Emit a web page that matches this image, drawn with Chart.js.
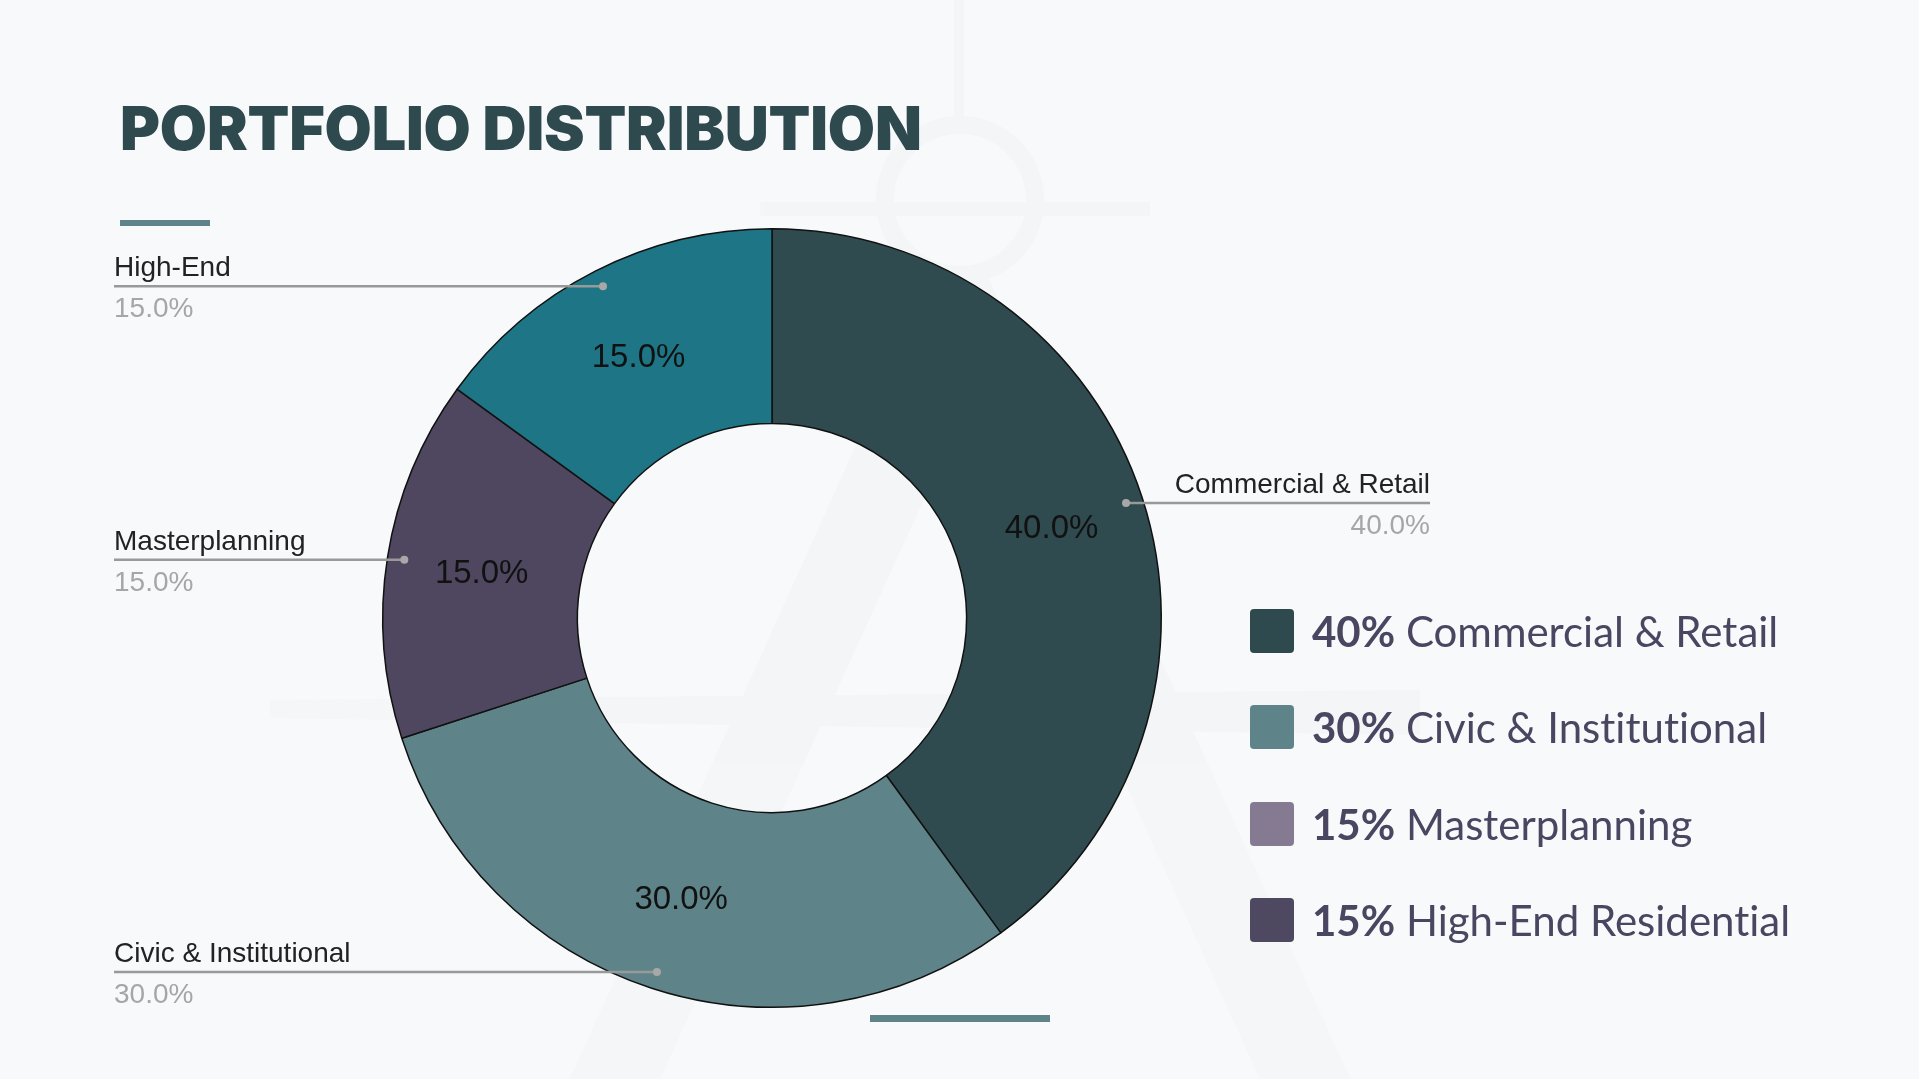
<!DOCTYPE html>
<html>
<head>
<meta charset="utf-8">
<script src="https://cdn.jsdelivr.net/npm/chart.js@4.4.1/dist/chart.umd.min.js"></script>
<style>
  html, body { margin: 0; padding: 0; }
  body { width: 1919px; height: 1079px; background: #f8f9fb; position: relative; overflow: hidden; font-family: "Liberation Sans", Arial, sans-serif; }
  #wm { position: absolute; left: 0; top: 0; width: 1919px; height: 1079px; }
  #title { position: absolute; left: 120px; top: 92px; margin: 0; font-family: Inter, sans-serif; font-weight: 900; font-size: 61px; color: #2f4a4e; letter-spacing: -0.2px; white-space: nowrap; line-height: 1.2; }
  #bar1 { position: absolute; left: 120px; top: 220px; width: 90px; height: 6px; background: #5e8489; }
  #bar2 { position: absolute; left: 870px; top: 1015px; width: 180px; height: 7px; background: #5e8489; }
  #chartWrap { position: absolute; left: 0; top: 0; width: 1919px; height: 1079px; }
  #legend { position: absolute; left: 1250px; top: 609px; font-family: Lato, sans-serif; color: #4a4560; font-variant-ligatures: none; font-feature-settings: "liga" 0; }
  .row { display: flex; align-items: center; height: 44px; margin-bottom: 52.3px; white-space: nowrap; }
  .sw { width: 44px; height: 44px; border-radius: 4px; margin-right: 18px; flex: none; }
  .txt { font-size: 42px; line-height: 44px; }
  .txt b { font-weight: 700; }
</style>
</head>
<body>
<svg id="wm" viewBox="0 0 1919 1079">
  <g fill="#eff1f3" opacity="0.45">
    <rect x="954" y="0" width="10" height="130"/>
    <circle cx="960" cy="200" r="75" fill="none" stroke="#eff1f3" stroke-width="18"/>
    <polygon points="935,270 985,270 1350,1079 1260,1079 960,420 660,1079 570,1079"/>
    <polygon points="270,700 1420,690 1420,735 270,718"/>
    <rect x="760" y="202" width="390" height="14"/>
  </g>
</svg>
<h1 id="title">PORTFOLIO DISTRIBUTION</h1>
<div id="bar1"></div>
<div id="bar2"></div>
<div id="chartWrap"><canvas id="c" width="1919" height="1079"></canvas></div>
<div id="legend"></div>
<script>
// ---- data ----
const categories = ["Commercial & Retail", "Civic & Institutional", "Masterplanning", "High-End"];
const shares = [40, 30, 15, 15];
const sliceColors = ["#2f4b4f", "#5e8489", "#4f475f", "#1e7585"];
const legendPercents = ["40%", "30%", "15%", "15%"];
const legendNames = ["Commercial & Retail", "Civic & Institutional", "Masterplanning", "High-End Residential"];
const legendColors = ["#2f4a4e", "#5e8388", "#857a91", "#4e4860"];

// ---- legend ----
const lg = document.getElementById('legend');
legendNames.forEach((n, i) => {
  const r = document.createElement('div'); r.className = 'row';
  const s = document.createElement('div'); s.className = 'sw'; s.style.background = legendColors[i];
  const t = document.createElement('div'); t.className = 'txt';
  const b = document.createElement('b'); b.textContent = legendPercents[i];
  t.appendChild(b); t.appendChild(document.createTextNode(' ' + n));
  r.appendChild(s); r.appendChild(t); lg.appendChild(r);
});

// ---- label plugin ----
const labelPlugin = {
  id: 'sliceLabels',
  afterDatasetsDraw(chart) {
    const ctx = chart.ctx;
    const meta = chart.getDatasetMeta(0);
    const total = shares.reduce((a, b) => a + b, 0);
    meta.data.forEach((arc, i) => {
      const p = arc.getProps(['x', 'y', 'startAngle', 'endAngle', 'innerRadius', 'outerRadius'], true);
      const mid = (p.startAngle + p.endAngle) / 2;
      const pct = (shares[i] / total * 100).toFixed(1) + '%';
      // inside label
      const rm = (p.innerRadius + p.outerRadius) / 2 + 2;
      ctx.save();
      ctx.font = '33px "Liberation Sans", Arial, sans-serif';
      ctx.fillStyle = '#111';
      ctx.textAlign = 'center';
      ctx.textBaseline = 'middle';
      ctx.fillText(pct, p.x + Math.cos(mid) * rm, p.y + Math.sin(mid) * rm + 2);
      // callout
      const rd = p.outerRadius - 17;
      const dx = p.x + Math.cos(mid) * rd;
      const dy = p.y + Math.sin(mid) * rd;
      const left = Math.cos(mid) < 0;
      const ex = left ? p.x - 658 : p.x + 658;
      ctx.strokeStyle = '#999';
      ctx.lineWidth = 2.5;
      ctx.beginPath(); ctx.moveTo(dx, dy); ctx.lineTo(ex, dy); ctx.stroke();
      ctx.fillStyle = '#a8a8a8';
      ctx.beginPath(); ctx.arc(dx, dy, 4, 0, Math.PI * 2); ctx.fill();
      ctx.font = '28px "Liberation Sans", Arial, sans-serif';
      ctx.textAlign = left ? 'left' : 'right';
      ctx.textBaseline = 'alphabetic';
      ctx.fillStyle = '#222';
      ctx.fillText(chart.data.labels[i], ex, dy - 10);
      ctx.fillStyle = '#a6a6a6';
      ctx.fillText(pct, ex, dy + 31);
      ctx.restore();
    });
  }
};

new Chart(document.getElementById('c'), {
  type: 'doughnut',
  data: {
    labels: categories,
    datasets: [{
      data: shares,
      backgroundColor: sliceColors,
      borderColor: '#111',
      borderWidth: 1.5
    }]
  },
  options: {
    responsive: false,
    animation: false,
    cutout: '50%',
    layout: { padding: { left: 382, right: 757, top: 228, bottom: 71 } },
    plugins: { legend: { display: false }, tooltip: { enabled: false }, title: { display: false } }
  },
  plugins: [labelPlugin]
});
</script>
</body>
</html>
